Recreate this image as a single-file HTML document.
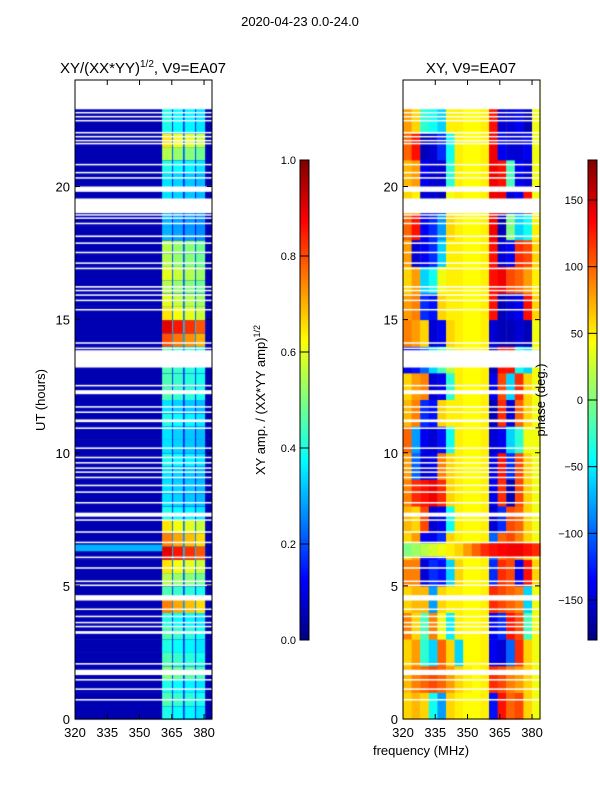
<!DOCTYPE html>
<html><head><meta charset="utf-8">
<style>
body{margin:0;background:#fff;width:600px;height:800px;overflow:hidden;font-family:"Liberation Sans",sans-serif;}
#wrap{position:relative;width:600px;height:800px;}
canvas{position:absolute;left:0;top:0;}
svg{position:absolute;left:0;top:0;}
text{font-family:"Liberation Sans",sans-serif;fill:#000;}
</style></head>
<body>
<div id="wrap">
<canvas id="cv" width="600" height="800"></canvas>
<svg id="sv" width="600" height="800"></svg>
</div>
<script>
// ---- data ----
const freqTicks = [320,335,350,365,380];
const timeTicks = [0,5,10,15,20];
const ampTicks = [0.0,0.2,0.4,0.6,0.8,1.0];
const phaseTicks = [-150,-100,-50,0,50,100,150];
// flagged (white) time intervals in hours
const flags = [[22.9,24],[22.75,22.8],[22.6,22.65],[22.45,22.5],[22.0,22.05],[21.85,21.9],[21.7,21.75],[21.6,21.64],[20.8,20.85],[20.5,20.55],[20.3,20.35],[19.8,20.0],[19.0,19.55],[18.92,18.96],[18.8,18.84],[18.6,18.64],[18.1,18.16],[17.85,17.9],[17.5,17.55],[17.1,17.15],[16.9,16.95],[16.2,16.26],[16.08,16.12],[15.9,15.95],[15.7,15.75],[15.35,15.4],[14.1,14.15],[13.9,13.95],[13.2,13.85],[12.5,12.55],[12.2,12.35],[11.7,11.75],[11.5,11.55],[11.15,11.25],[10.9,10.95],[10.15,10.2],[9.8,9.85],[9.6,9.65],[9.4,9.45],[9.25,9.3],[9.05,9.1],[8.75,8.8],[8.5,8.55],[8.1,8.15],[7.6,7.75],[7.45,7.5],[7.0,7.05],[6.62,6.66],[6.05,6.1],[5.65,5.7],[5.15,5.2],[5.0,5.05],[4.45,4.65],[4.1,4.15],[3.83,3.88],[3.6,3.65],[3.45,3.5],[3.2,3.3],[2.05,2.1],[1.65,1.85],[1.45,1.5],[1.1,1.15],[0.7,0.75]];
// amplitude bands (MHz)
const bandLo = [360.5,365.6,371.0,376.3];
const bandHi = [365.1,370.2,375.8,380.5];
const bandGain = [1.0,0.95,0.92,0.88];
// band amplitude level per half-hour (48 bins)
const ampLevel = [0.4,0.45,0.4,0.5,0.45,0.4,0.45,0.4,0.75,0.45,0.55,0.65,0.9,0.75,0.65,0.4,0.35,0.35,0.35,0.4,0.35,0.35,0.4,0.35,0.45,0.45,0.45,0.45,0.8,0.9,0.65,0.6,0.55,0.6,0.55,0.55,0.3,0.3,0.35,0.35,0.35,0.4,0.55,0.65,0.4,0.4,0.4,0.4];
const ampBackground = 0.05;
const ampStrip = [6.3,6.55,0.3];
// phase grid: 24 hourly rows x 16 freq bins (4 MHz from 320)
const phaseFreq0 = 320, phaseFreqStep = 4;
const phase = [
[60,70,60,-40,-80,60,50,45,45,50,-130,130,100,110,60,40],
[70,90,100,110,100,80,60,50,45,50,120,110,90,80,60,40],
[60,80,-30,-60,100,60,-60,45,45,50,-140,-150,-100,120,60,40],
[90,60,-20,90,40,-50,50,45,45,50,-140,-120,130,110,-20,40],
[60,70,70,-80,60,50,50,45,45,50,120,110,100,90,-60,40],
[90,90,-150,-120,-130,-60,60,45,45,50,-120,120,110,-140,130,60],
[60,80,-140,-140,-120,60,50,45,45,50,-100,100,110,90,60,40],
[70,60,110,-150,-140,-40,50,45,45,50,-150,-120,110,100,60,40],
[90,120,130,140,120,60,50,45,45,50,-140,120,-160,110,60,40],
[80,-100,-150,-140,90,60,50,45,45,50,-140,130,-120,110,60,40],
[100,-80,-140,-150,-130,-40,50,45,45,50,-150,-140,-60,-30,40,40],
[70,90,-120,-130,60,50,50,45,45,50,-160,120,-150,100,60,40],
[60,80,90,-150,-140,-30,50,45,45,50,-140,110,-60,120,60,40],
[-140,-130,-100,-60,-20,20,50,45,45,50,-160,130,130,-40,-60,40],
[90,80,60,-150,-140,60,50,45,45,50,-150,-160,-160,-150,-160,40],
[80,90,-120,-130,60,50,50,45,45,50,130,-160,-150,-140,130,60],
[60,80,-60,-40,40,50,50,45,45,50,130,140,110,100,80,50],
[80,-150,-140,-120,-60,50,50,45,45,50,130,-150,-140,120,110,60],
[100,130,-140,-120,-80,60,50,45,45,50,140,-160,0,-60,-40,50],
[60,50,-150,-150,-160,40,50,45,45,50,140,140,-150,-140,130,40],
[70,80,-140,-150,-150,-30,50,45,45,50,140,130,-20,-140,-150,40],
[100,130,-160,-150,-120,-40,50,45,45,50,140,-140,-150,-150,-140,40],
[80,60,-30,-40,-60,50,50,45,45,50,130,-150,-150,-140,-160,40],
[60,50,50,40,50,50,50,45,45,50,-150,-150,60,60,40,40]];
const phaseStripTime = [6.1,6.6];
const phaseStrip = [0,10,20,30,40,50,60,80,100,120,130,135,140,140,130,120];

// ---- layout ----
const L = {x0:75,x1:212}, R = {x0:403,x1:540};
const yTop=80, yBot=719, tMax=24;
const fMin=320, fMax=383.7;
function xs(p,f){return p.x0+(f-fMin)/(fMax-fMin)*(p.x1-p.x0);}
function ys(h){return yBot-h/tMax*(yBot-yTop);}
const cbTop=160, cbBot=640;
function cbAmp(v){return cbBot-v*(cbBot-cbTop);}
function cbPh(v){return cbBot-(v+180)/360*(cbBot-cbTop);}
function jet(t){t=Math.max(0,Math.min(1,t));const c=x=>Math.round(255*Math.max(0,Math.min(1,x)));
 return `rgb(${c(1.5-Math.abs(4*t-3))},${c(1.5-Math.abs(4*t-2))},${c(1.5-Math.abs(4*t-1))})`;}

const ctx=document.getElementById('cv').getContext('2d');
// amplitude panel
const dt=0.5;
for(let i=0;i<ampLevel.length;i++){
  const h0=i*dt,h1=h0+dt;
  const ya=ys(h1),yb=ys(h0);
  ctx.fillStyle=jet(ampBackground);ctx.fillRect(L.x0,ya,L.x1-L.x0,yb-ya+0.5);
  // gaps between bands slightly brighter
  ctx.fillStyle=jet(ampBackground+ampLevel[i]*0.3);
  ctx.fillRect(xs(L,bandLo[0]),ya,xs(L,bandHi[3])-xs(L,bandLo[0]),yb-ya+0.5);
  for(let b=0;b<bandLo.length;b++){
    ctx.fillStyle=jet(ampLevel[i]*bandGain[b]);
    ctx.fillRect(xs(L,bandLo[b]),ya,xs(L,bandHi[b])-xs(L,bandLo[b]),yb-ya+0.5);
  }
}
ctx.fillStyle=jet(ampStrip[2]);
ctx.fillRect(L.x0,ys(ampStrip[1]),xs(L,bandLo[0])-L.x0,ys(ampStrip[0])-ys(ampStrip[1]));
// phase panel
for(let r=0;r<phase.length;r++){
  for(let c=0;c<phase[r].length;c++){
    const f0=phaseFreq0+c*phaseFreqStep,f1=Math.min(fMax,f0+phaseFreqStep);
    ctx.fillStyle=jet((phase[r][c]+180)/360);
    ctx.fillRect(xs(R,f0),ys(r+1),xs(R,f1)-xs(R,f0)+0.5,ys(r)-ys(r+1)+0.5);
  }
}
for(let c=0;c<phaseStrip.length;c++){
  const f0=phaseFreq0+c*phaseFreqStep,f1=Math.min(fMax,f0+phaseFreqStep);
  ctx.fillStyle=jet((phaseStrip[c]+180)/360);
  ctx.fillRect(xs(R,f0),ys(phaseStripTime[1]),xs(R,f1)-xs(R,f0)+0.5,ys(phaseStripTime[0])-ys(phaseStripTime[1]));
}
// flags
ctx.fillStyle='#fff';
for(const [a,b] of flags){
  const ya=ys(b),hh=Math.max(1.5,ys(a)-ys(b));
  ctx.fillRect(L.x0,ya,L.x1-L.x0,hh);
  ctx.fillRect(R.x0,ya,R.x1-R.x0,hh);
}
// colorbars
for(let y=cbTop;y<cbBot;y++){
  const t=(cbBot-y)/(cbBot-cbTop);
  ctx.fillStyle=jet(t);ctx.fillRect(300,y,9,1);ctx.fillRect(588,y,9,1);
}

// ---- SVG axes ----
const sv=document.getElementById('sv');const NS='http://www.w3.org/2000/svg';
function mk(tag,attrs,name,txt){const e=document.createElementNS(NS,tag);for(const k in attrs)e.setAttribute(k,attrs[k]);
 
 
 if(txt!==undefined)e.textContent=txt;sv.appendChild(e);return e;}
for(const P of [L,R]){
  const side=P===L?'left':'right';
  mk('rect',{x:P.x0,y:yTop,width:P.x1-P.x0,height:yBot-yTop,fill:'none',stroke:'#000','stroke-width':1},side+'-axes-frame');
  for(const f of freqTicks){const x=xs(P,f);
    mk('line',{x1:x,y1:yBot,x2:x,y2:yBot-5,stroke:'#000'},'x-tick');
    mk('line',{x1:x,y1:yTop,x2:x,y2:yTop+5,stroke:'#000'},'x-tick');
    mk('text',{x:x,y:737,'font-size':13,'text-anchor':'middle'},'x-tick-label',String(f));}
  for(const h of timeTicks){const y=ys(h);
    mk('line',{x1:P.x0,y1:y,x2:P.x0+5,y2:y,stroke:'#000'},'y-tick');
    mk('line',{x1:P.x1,y1:y,x2:P.x1-5,y2:y,stroke:'#000'},'y-tick');
    mk('text',{x:P.x0-5,y:y+5,'font-size':13,'text-anchor':'end'},'y-tick-label',String(h));}
}
mk('rect',{x:300,y:cbTop,width:9,height:cbBot-cbTop,fill:'none',stroke:'#000'},'amp-colorbar-frame');
mk('rect',{x:588,y:cbTop,width:9,height:cbBot-cbTop,fill:'none',stroke:'#000'},'phase-colorbar-frame');
for(const v of ampTicks){const y=cbAmp(v);
  mk('line',{x1:300,y1:y,x2:309,y2:y,stroke:'#000'},'amp-colorbar-tick');
  mk('text',{x:296,y:y+4,'font-size':11,'text-anchor':'end'},'amp-colorbar-label',v.toFixed(1));}
for(const v of phaseTicks){const y=cbPh(v);
  mk('line',{x1:588,y1:y,x2:597,y2:y,stroke:'#000'},'phase-colorbar-tick');
  mk('text',{x:583,y:y+4,'font-size':11,'text-anchor':'end'},'phase-colorbar-label',v<0?'\u2212'+(-v):String(v));}
mk('text',{x:300,y:26,'font-size':13,'text-anchor':'middle'},'figure-title','2020-04-23 0.0-24.0');
const t1=mk('text',{x:143,y:73,'font-size':15,'text-anchor':'middle'},'left-panel-title');
t1.innerHTML='XY/(XX*YY)<tspan dy="-6" font-size="10">1/2</tspan><tspan dy="6">, V9=EA07</tspan>';
mk('text',{x:471,y:73,'font-size':15,'text-anchor':'middle'},'right-panel-title','XY, V9=EA07');
mk('text',{x:0,y:0,'font-size':13,'text-anchor':'middle',transform:'translate(45,400) rotate(-90)'},'y-axis-title','UT (hours)');
mk('text',{x:421,y:755,'font-size':13,'text-anchor':'middle'},'x-axis-title','frequency (MHz)');
const t2=mk('text',{x:0,y:0,'font-size':13,'text-anchor':'middle',transform:'translate(265,400) rotate(-90)'},'amp-colorbar-title');
t2.innerHTML='XY amp. / (XX*YY amp)<tspan dy="-5" font-size="9">1/2</tspan>';
mk('text',{x:0,y:0,'font-size':13,'text-anchor':'middle',transform:'translate(545,400) rotate(-90)'},'phase-colorbar-title','phase (deg.)');
</script>
</body></html>
